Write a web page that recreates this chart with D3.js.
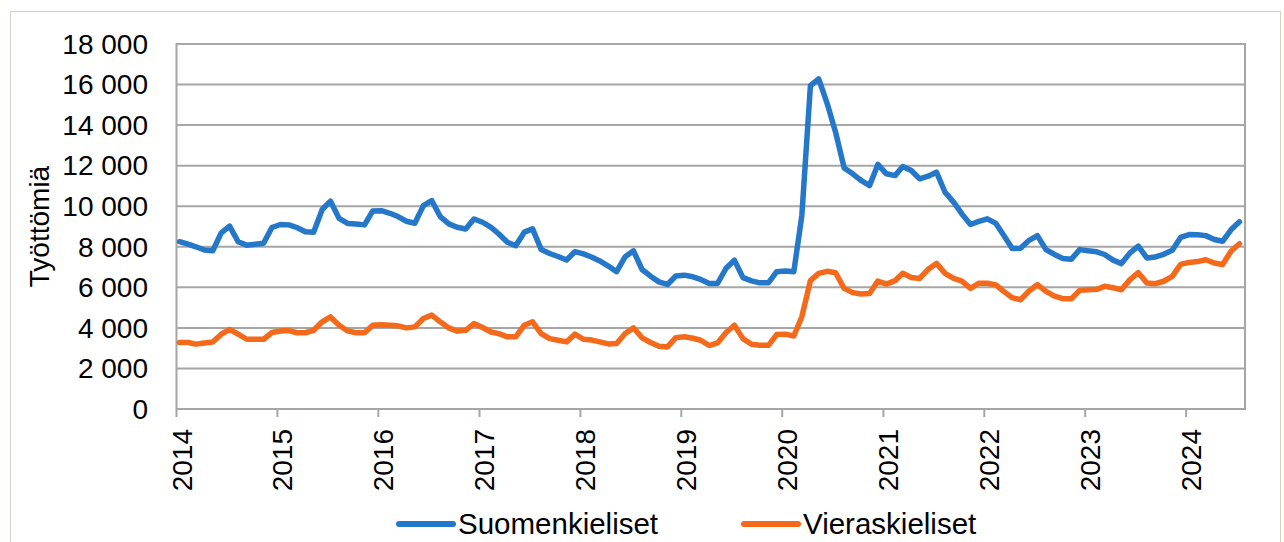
<!DOCTYPE html>
<html>
<head>
<meta charset="utf-8">
<script src="https://cdn.jsdelivr.net/npm/d3@7"></script>
<style>
  body { margin: 0; background: #fff; }
  svg { display: block; font-family: "Liberation Sans", Arial, sans-serif; }
</style>
</head>
<body>
<svg id="chart" width="1284" height="542"></svg>
<script>
// monthly values, Jan 2014 - Jul 2024
const startYear = 2014;
const suomenkieliset = [
  8250, 8130, 8000, 7840, 7800, 8690, 9020, 8250, 8080, 8120, 8170, 8950,
  9100, 9080, 8950, 8740, 8720, 9840, 10250, 9400, 9150, 9120, 9080, 9770,
  9780, 9650, 9490, 9260, 9160, 10030, 10280, 9490, 9130, 8960, 8880, 9370,
  9210, 8960, 8630, 8220, 8050, 8720, 8880, 7870, 7670, 7520, 7350, 7760,
  7650, 7480, 7300, 7050, 6770, 7510, 7800, 6880, 6550, 6270, 6140, 6560,
  6600, 6520, 6390, 6190, 6190, 6940, 7340, 6480, 6320, 6220, 6220, 6770,
  6810, 6770, 9540, 15950, 16280, 15050, 13650, 11890, 11600, 11270, 11020, 12060,
  11600, 11510, 11960, 11760, 11350, 11480, 11680, 10690, 10200, 9620, 9100, 9250,
  9380, 9150, 8570, 7910, 7930, 8320, 8550, 7860, 7620, 7420, 7390, 7860,
  7800, 7750, 7620, 7340, 7170, 7700, 8030, 7450, 7500, 7630, 7830, 8460,
  8600, 8590, 8550, 8360, 8270, 8850, 9230
];
const vieraskieliset = [
  3280, 3280, 3200, 3250, 3300, 3690, 3920, 3690, 3440, 3440, 3440, 3770,
  3850, 3870, 3760, 3760, 3880, 4300, 4540, 4130, 3850, 3760, 3760, 4130,
  4160, 4130, 4100, 4000, 4050, 4460, 4630, 4300, 4000, 3840, 3880, 4210,
  4020, 3800, 3720, 3560, 3560, 4130, 4300, 3720, 3470, 3390, 3310, 3690,
  3440, 3400, 3310, 3210, 3230, 3720, 4000, 3510, 3280, 3090, 3060, 3520,
  3560, 3490, 3390, 3130, 3260, 3770, 4130, 3470, 3190, 3140, 3140, 3670,
  3690, 3600, 4550, 6330, 6690, 6790, 6720, 5950, 5740, 5670, 5700, 6310,
  6160, 6330, 6690, 6490, 6440, 6890, 7180, 6690, 6440, 6310, 5950, 6200,
  6200, 6120, 5800, 5490, 5390, 5820, 6130, 5800, 5570, 5440, 5440, 5850,
  5880, 5900, 6050, 5980, 5880, 6380, 6720, 6210, 6180, 6300, 6540, 7130,
  7230, 7270, 7360, 7200, 7130, 7790, 8150
];
const yTicks = [0, 2000, 4000, 6000, 8000, 10000, 12000, 14000, 16000, 18000];
const yearTicks = d3.range(2014, 2025);

const series = [
  { name: "Suomenkieliset", values: suomenkieliset, color: "#2477c9" },
  { name: "Vieraskieliset", values: vieraskieliset, color: "#f5691a" }
];

const svg = d3.select("#chart");
const plotLeft = 176.5, plotRight = 1245, plotTop = 44, plotBottom = 409;

// outer chart frame
svg.append("rect")
  .attr("x", 10.5).attr("y", 11.5)
  .attr("width", 1270).attr("height", 545)
  .attr("fill", "none").attr("stroke", "#d8d3bd").attr("stroke-width", 1);

const x = d3.scaleTime()
  .domain([new Date(2014, 0, 1), new Date(2024, 7, 1)])
  .range([plotLeft, plotRight]);
const y = d3.scaleLinear().domain([0, 18000]).range([plotBottom, plotTop]);

const dateOf = (i) => new Date(startYear + Math.floor(i / 12), i % 12, 12);

// gridlines
svg.append("g")
  .selectAll("line")
  .data(yTicks)
  .join("line")
  .attr("x1", plotLeft).attr("x2", plotRight)
  .attr("y1", (d) => y(d)).attr("y2", (d) => y(d))
  .attr("stroke", "#a6a6a6").attr("stroke-width", 2);

// plot border
svg.append("rect")
  .attr("x", plotLeft).attr("y", plotTop)
  .attr("width", plotRight - plotLeft).attr("height", plotBottom - plotTop)
  .attr("fill", "none").attr("stroke", "#a6a6a6").attr("stroke-width", 2);

// y labels
svg.append("g")
  .selectAll("text")
  .data(yTicks)
  .join("text")
  .attr("x", 148)
  .attr("y", (d) => y(d))
  .attr("dy", "0.35em")
  .attr("text-anchor", "end")
  .attr("font-size", 28)
  .attr("fill", "#000")
  .text((d) => d3.format(",")(d).replace(",", " "));

svg.append("text")
  .attr("transform", `translate(49,${(plotTop + plotBottom) / 2}) rotate(-90)`)
  .attr("text-anchor", "middle")
  .attr("font-size", 28)
  .text("Työttömiä");

// x ticks and labels
const xg = svg.append("g");
xg.selectAll("line")
  .data(yearTicks)
  .join("line")
  .attr("x1", (d) => x(new Date(d, 0, 1)))
  .attr("x2", (d) => x(new Date(d, 0, 1)))
  .attr("y1", plotBottom).attr("y2", plotBottom + 8)
  .attr("stroke", "#a6a6a6").attr("stroke-width", 2);
xg.selectAll("text")
  .data(yearTicks)
  .join("text")
  .attr("transform", (d) => `translate(${x(new Date(d, 0, 1)) + 15},429) rotate(-90)`)
  .attr("text-anchor", "end")
  .attr("font-size", 28)
  .text((d) => d);

// lines
const line = d3.line()
  .x((d, i) => x(dateOf(i)))
  .y((d) => y(d));

svg.append("g")
  .selectAll("path")
  .data(series)
  .join("path")
  .attr("d", (s) => line(s.values))
  .attr("fill", "none")
  .attr("stroke", (s) => s.color)
  .attr("stroke-width", 5.5)
  .attr("stroke-linejoin", "round")
  .attr("stroke-linecap", "round");

// legend
const legendX = [399, 744];
const lg = svg.append("g")
  .selectAll("g")
  .data(series)
  .join("g")
  .attr("transform", (s, i) => `translate(${legendX[i]},524)`);
lg.append("line")
  .attr("x1", 0).attr("x2", 54)
  .attr("stroke", (s) => s.color)
  .attr("stroke-width", 6)
  .attr("stroke-linecap", "round");
lg.append("text")
  .attr("x", 59).attr("y", 10)
  .attr("font-size", 29.5)
  .text((s) => s.name);
</script>
</body>
</html>
